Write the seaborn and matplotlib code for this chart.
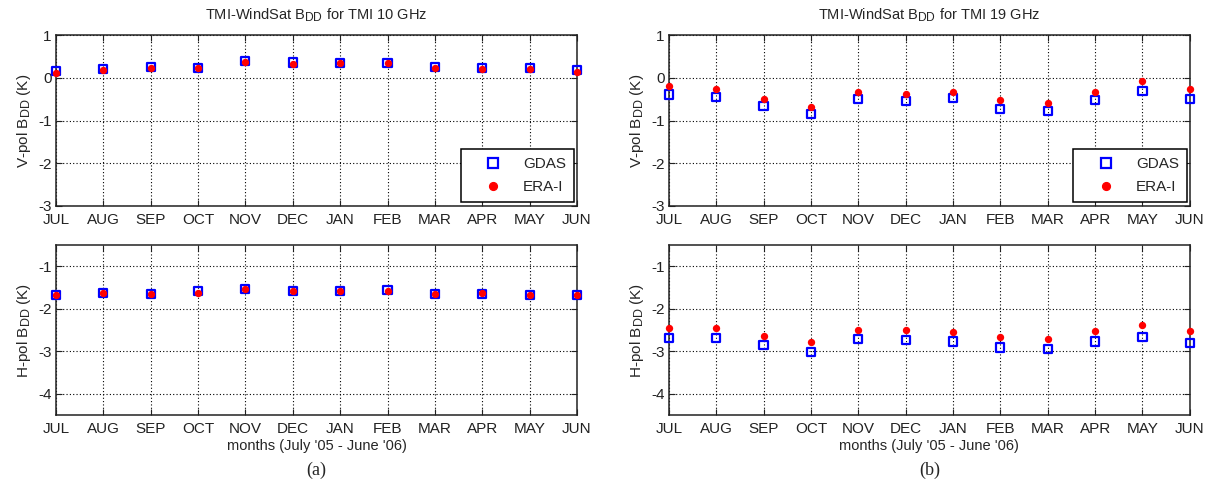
import matplotlib
matplotlib.use("Agg")
import matplotlib.pyplot as plt
import pandas as pd
import seaborn as sns
from matplotlib.lines import Line2D

try:
    # larger subscripts for the B_DD labels
    from matplotlib import _mathtext
    _mathtext.SHRINK_FACTOR = 0.82
except Exception:
    pass

# Month axis (July 2005 - June 2006)
months = ["JUL", "AUG", "SEP", "OCT", "NOV", "DEC",
          "JAN", "FEB", "MAR", "APR", "MAY", "JUN"]

# Double-difference bias, TMI 10 GHz
v10_gdas = [0.15, 0.20, 0.26, 0.23, 0.40, 0.36, 0.35, 0.35, 0.26, 0.23, 0.23, 0.18]
v10_era = [0.12, 0.18, 0.23, 0.23, 0.37, 0.32, 0.34, 0.34, 0.23, 0.20, 0.21, 0.14]
h10_gdas = [-1.67, -1.62, -1.65, -1.59, -1.54, -1.59, -1.59, -1.56, -1.65, -1.65, -1.67, -1.67]
h10_era = [-1.68, -1.62, -1.65, -1.62, -1.54, -1.59, -1.59, -1.57, -1.65, -1.62, -1.67, -1.67]

# Double-difference bias, TMI 19 GHz
v19_gdas = [-0.39, -0.45, -0.67, -0.84, -0.50, -0.55, -0.47, -0.72, -0.78, -0.52, -0.30, -0.50]
v19_era = [-0.19, -0.27, -0.49, -0.68, -0.33, -0.38, -0.33, -0.52, -0.60, -0.33, -0.08, -0.27]
h19_gdas = [-2.69, -2.69, -2.86, -3.02, -2.72, -2.73, -2.77, -2.91, -2.95, -2.77, -2.66, -2.80]
h19_era = [-2.46, -2.46, -2.63, -2.77, -2.49, -2.49, -2.55, -2.66, -2.72, -2.52, -2.37, -2.52]

series_names = ["GDAS", "ERA-I"]
titles = ["TMI-WindSat B$_{DD}$ for TMI 10 GHz", "TMI-WindSat B$_{DD}$ for TMI 19 GHz"]
v_label = "V-pol B$_{DD}$ (K)"
h_label = "H-pol B$_{DD}$ (K)"
x_label = "months (July '05 - June '06)"
panel_tags = ["(a)", "(b)"]

sns.set_theme(style="white")
plt.rcParams["font.family"] = ["Liberation Sans", "DejaVu Sans"]
plt.rcParams["mathtext.default"] = "regular"
plt.rcParams["mathtext.fontset"] = "custom"
plt.rcParams["mathtext.rm"] = "Liberation Sans"

fig = plt.figure(figsize=(12.16, 4.88), dpi=100)

lefts = [0.046, 0.550]
width = 0.4285
top_row = (0.578, 0.350)
bot_row = (0.1496, 0.348)


def style_axes(ax, ylim, yticks):
    ax.set_xlim(0, len(months) - 1)
    ax.set_ylim(*ylim)
    ax.set_xticks(range(len(months)))
    ax.set_xticklabels(months)
    ax.set_yticks(yticks)
    ax.set_yticklabels([f"{t:g}" for t in yticks])
    ax.grid(True, color="black", linestyle=(0, (1, 2)), linewidth=0.8)
    ax.set_axisbelow(True)
    for sp in ax.spines.values():
        sp.set_visible(True)
        sp.set_color("#222222")
        sp.set_linewidth(1.1)
    ax.tick_params(axis="both", direction="in", length=4, width=0.8,
                   top=True, right=True, bottom=True, left=True,
                   labelsize=11, colors="#222222", pad=3)
    ax.tick_params(axis="x", pad=5)


def draw(ax, gdas, era):
    df = pd.DataFrame({"month": range(len(months)), "GDAS": gdas, "ERA-I": era})
    sns.scatterplot(data=df, x="month", y="GDAS", ax=ax, marker="s", s=34,
                    facecolor="none", edgecolor="#0000ff", linewidth=1.6,
                    clip_on=False, zorder=3, legend=False)
    sns.scatterplot(data=df, x="month", y="ERA-I", ax=ax, marker="o", s=28,
                    color="#ff0000", edgecolor="#ff0000", linewidth=0,
                    clip_on=False, zorder=4, legend=False)
    ax.set_xlabel("")


panels = [
    (v10_gdas, v10_era, h10_gdas, h10_era),
    (v19_gdas, v19_era, h19_gdas, h19_era),
]

for i, (vg, ve, hg, he) in enumerate(panels):
    ax_v = fig.add_axes([lefts[i], top_row[0], width, top_row[1]])
    ax_h = fig.add_axes([lefts[i], bot_row[0], width, bot_row[1]])

    draw(ax_v, vg, ve)
    style_axes(ax_v, (-3, 1), [-3, -2, -1, 0, 1])
    ax_v.set_ylabel(v_label, fontsize=11, labelpad=4)
    ax_v.set_title(titles[i], fontsize=10.5, pad=11)

    handles = [
        Line2D([], [], marker="s", linestyle="none", markersize=6.5,
               markerfacecolor="none", markeredgecolor="#0000ff", markeredgewidth=1.6),
        Line2D([], [], marker="o", linestyle="none", markersize=5.6,
               markerfacecolor="#ff0000", markeredgecolor="#ff0000"),
    ]
    leg = ax_v.legend(handles, series_names, loc="lower right",
                      bbox_to_anchor=(0.994, 0.025), borderaxespad=0,
                      fontsize=11, frameon=True, fancybox=False,
                      edgecolor="black", framealpha=1, borderpad=0.5,
                      handlelength=3.2, handletextpad=0.4, labelspacing=0.6)
    leg.get_frame().set_linewidth(1.1)

    draw(ax_h, hg, he)
    style_axes(ax_h, (-4.5, -0.5), [-4, -3, -2, -1])
    ax_h.set_ylabel(h_label, fontsize=11, labelpad=4)
    ax_h.set_xlabel(x_label, fontsize=10.5, labelpad=2)

    cx = lefts[i] + width / 2
    fig.text(cx, 0.037, panel_tags[i], ha="center", va="center",
             fontsize=13, family=["Liberation Serif", "DejaVu Serif"])

fig.savefig("out.png", dpi=100)
